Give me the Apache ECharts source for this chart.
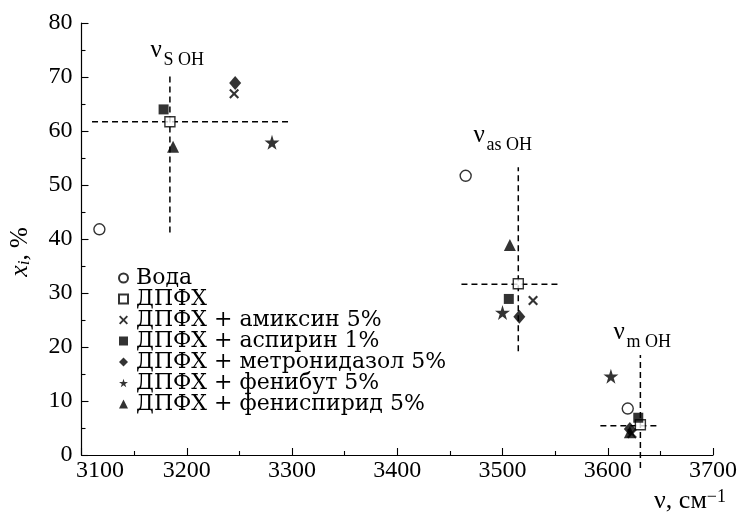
<!DOCTYPE html>
<html>
<head>
<meta charset="utf-8">
<script src="https://cdn.jsdelivr.net/npm/echarts@6/dist/echarts.min.js"></script>
<style>
  html, body { margin: 0; padding: 0; background: #fff; }
  #chart { width: 740px; height: 515px; }
</style>
</head>
<body>
<div id="chart"></div>
<script>
// Band assignments: OH stretching frequency (cm^-1) and fraction x_i (%)
const seriesNames = [
  'Вода',
  'ДПФХ',
  'ДПФХ + амиксин 5%',
  'ДПФХ + аспирин 1%',
  'ДПФХ + метронидазол 5%',
  'ДПФХ + фенибут 5%',
  'ДПФХ + фениспирид 5%'
];

// [frequency, fraction] for the νs, νas and νm bands
const water      = [[3117, 41.8], [3465, 51.7], [3619, 8.6]];
const dpfh       = [[3184, 61.7], [3515, 31.7], [3631, 5.6]];
const amixin     = [[3245, 66.9], [3529, 28.6], [3623, 4.0]];
const aspirin    = [[3178, 64.0], [3506, 28.9], [3629, 6.9]];
const metronid   = [[3246, 68.9], [3516, 25.6], [3621, 4.8]];
const fenibut    = [[3281, 57.9], [3500, 26.4], [3603, 14.6]];
const fenispirid = [[3187, 57.1], [3507, 38.9], [3621, 4.2]];

// Dashed crosshairs through the pure ДПФХ bands
const guideSH  = [[3110, 61.7], [3300, 61.7]];
const guideSV  = [[3184, 41.2], [3184, 70.7]];
const guideAsH = [[3461, 31.6], [3554, 31.6]];
const guideAsV = [[3515, 19.2], [3515, 53.3]];
const guideMH  = [[3593, 5.4], [3647, 5.4]];
const guideMV  = [[3631, -2.4], [3631, 18.5]];

// Axis ticks
const xTicks = { min: 3100, max: 3700, step: 100 };
const yTicks = { min: 0, max: 80, step: 10 };

// Band captions: ν + subscript, anchored at the ν baseline (data units)
const bandLabels = [
  { sub: 'S OH',  at: [3165.5, 73.7] },
  { sub: 'as OH', at: [3472.5, 57.9] },
  { sub: 'm OH',  at: [3605.5, 21.5] }
];

const SERIF = 'Liberation Serif';
const WIDE_SERIF = 'DejaVu Serif';

const starPath  = 'path://M50,0L61,35L98,35L68,57L79,91L50,70L21,91L32,57L2,35L39,35Z';
const crossPath = 'path://M1.5,0L5,3.5L8.5,0L10,1.5L6.5,5L10,8.5L8.5,10L5,6.5L1.5,10L0,8.5L3.5,5L0,1.5Z';

const openStyle = { color: '#fff', borderColor: '#000', borderWidth: 1.4 };
const solidStyle = { color: '#000', borderWidth: 0 };

const markerDefs = [
  { data: water,      symbol: 'circle',   size: 11, style: openStyle },
  { data: dpfh,       symbol: 'rect',     size: 10, style: openStyle },
  { data: amixin,     symbol: crossPath,  size: 10, style: solidStyle },
  { data: aspirin,    symbol: 'rect',     size: 10, style: solidStyle },
  { data: metronid,   symbol: 'diamond',  size: [12, 14], style: solidStyle },
  { data: fenibut,    symbol: starPath,   size: 15, style: solidStyle },
  { data: fenispirid, symbol: 'triangle', size: 12, style: solidStyle }
];

const guideSeries = [guideSH, guideSV, guideAsH, guideAsV, guideMH, guideMV].map((d, i) => ({
  name: 'guide' + i,
  type: 'line',
  data: d,
  symbol: 'none',
  clip: false,
  silent: true,
  z: 1,
  lineStyle: { color: '#000', width: 1.5, type: [6, 4] }
}));

const markerSeries = markerDefs.map((m, i) => ({
  name: seriesNames[i],
  type: 'scatter',
  data: m.data,
  symbol: m.symbol,
  symbolSize: m.size,
  itemStyle: m.style,
  z: 5
}));

const chart = echarts.init(document.getElementById('chart'), null, { renderer: 'canvas' });

const option = {
  animation: false,
  backgroundColor: '#fff',
  textStyle: { fontFamily: SERIF, color: '#000' },
  grid: { left: 81.5, right: 26.5, top: 23, bottom: 60, containLabel: false },
  legend: {
    data: seriesNames,
    orient: 'vertical',
    left: 118,
    top: 267,
    itemWidth: 9,
    itemHeight: 9,
    itemGap: -1,
    padding: 0,
    selectedMode: false,
    textStyle: { fontFamily: WIDE_SERIF, fontSize: 22, color: '#000', lineHeight: 21.2, padding: [0, 0, 0, 3] }
  },
  xAxis: {
    type: 'value',
    min: xTicks.min,
    max: xTicks.max,
    interval: xTicks.step,
    axisLine: { lineStyle: { color: '#000', width: 1.2 } },
    axisTick: { inside: true, length: 7, lineStyle: { color: '#000', width: 1.1 } },
    minorTick: { show: true, splitNumber: 2, length: 4, lineStyle: { color: '#000', width: 1.1 } },
    splitLine: { show: false },
    axisLabel: {
      margin: 4,
      fontFamily: SERIF,
      fontSize: 24,
      color: '#000',
      formatter: v => (v === xTicks.min ? '{f|' + v + '}' : String(v)),
      rich: { f: { fontFamily: SERIF, fontSize: 24, color: '#000', padding: [0, 0, 0, 37] } }
    }
  },
  yAxis: {
    type: 'value',
    min: yTicks.min,
    max: yTicks.max,
    interval: yTicks.step,
    axisLine: { lineStyle: { color: '#000', width: 1.2 } },
    axisTick: { inside: true, length: 7, lineStyle: { color: '#000', width: 1.1 } },
    minorTick: { show: true, splitNumber: 2, length: 4, lineStyle: { color: '#000', width: 1.1 } },
    splitLine: { show: false },
    axisLabel: { margin: 9, fontFamily: SERIF, fontSize: 24, color: '#000' }
  },
  series: guideSeries.concat(markerSeries)
};

chart.setOption(option);

// Axis titles and band captions
const graphics = [];

graphics.push({
  type: 'text',
  x: 20,
  y: 252,
  rotation: Math.PI / 2,
  style: {
    text: '{x|x}{i|i}{r|, %}',
    align: 'center',
    verticalAlign: 'middle',
    rich: {
      x: { fontFamily: SERIF, fontStyle: 'italic', fontSize: 26, fill: '#000' },
      i: { fontFamily: SERIF, fontStyle: 'italic', fontSize: 17, fill: '#000', verticalAlign: 'bottom', padding: [8, 0, 0, 0] },
      r: { fontFamily: SERIF, fontSize: 25, fill: '#000' }
    }
  }
});

graphics.push({
  type: 'text',
  x: 726,
  y: 515,
  style: {
    text: '{a|ν, см}{b|−1}',
    align: 'right',
    verticalAlign: 'bottom',
    rich: {
      a: { fontFamily: SERIF, fontSize: 26, fill: '#000' },
      b: { fontFamily: SERIF, fontSize: 18, fill: '#000', verticalAlign: 'top', padding: [0, 0, 9, 0] }
    }
  }
});

bandLabels.forEach(lbl => {
  const p = chart.convertToPixel({ gridIndex: 0 }, lbl.at);
  graphics.push({
    type: 'text',
    x: p[0],
    y: p[1] + 6,
    style: { text: 'ν', fontFamily: SERIF, fontSize: 25, fill: '#000', align: 'left', verticalAlign: 'bottom' }
  });
  graphics.push({
    type: 'text',
    x: p[0] + 13,
    y: p[1] + 12,
    style: { text: lbl.sub, fontFamily: SERIF, fontSize: 18, fill: '#000', align: 'left', verticalAlign: 'bottom' }
  });
});

chart.setOption({ graphic: graphics });
</script>
</body>
</html>
